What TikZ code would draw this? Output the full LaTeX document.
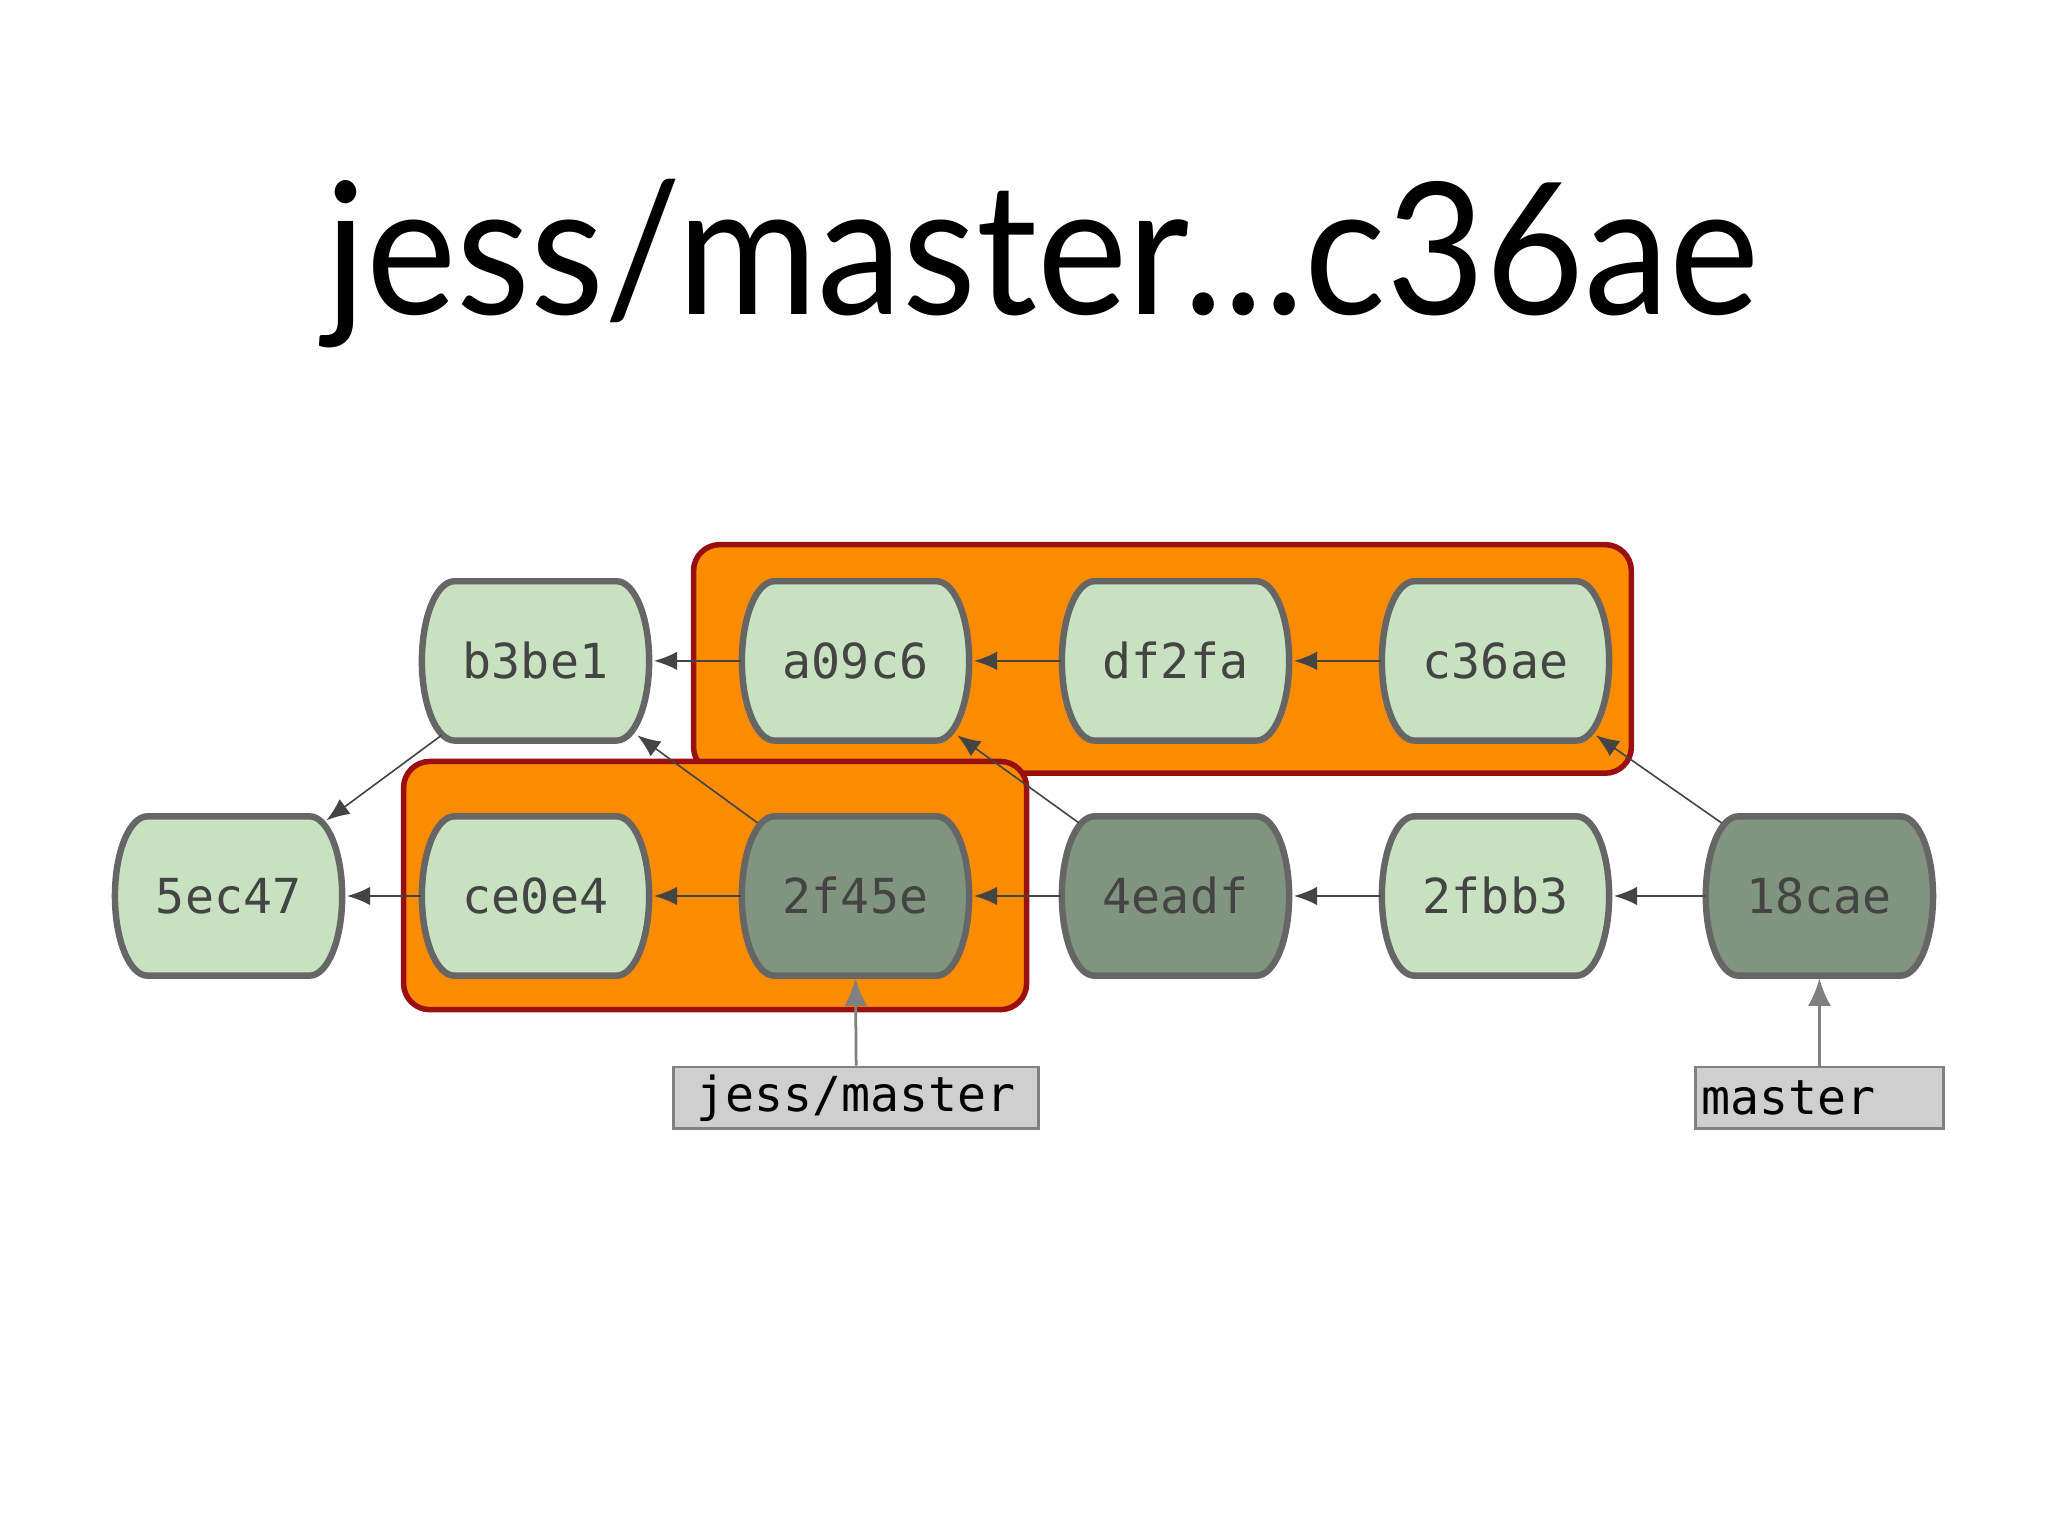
\documentclass[tikz,border=0pt]{standalone}
\usepackage{fontspec}
\setmainfont{Lato}
\newfontfamily\monof{DejaVu Sans Mono}
\usetikzlibrary{calc,arrows.meta}
\definecolor{lg}{HTML}{C8E1C0}
\definecolor{dg}{HTML}{81947F}
\definecolor{bd}{HTML}{666666}
\definecolor{org}{HTML}{FB8C00}
\definecolor{dr}{HTML}{9A1010}
\definecolor{tx}{HTML}{444444}
\newcommand{\cmt}[5]{%
  \fill[#5,draw=bd,line width=1.4pt] (#2-62,#3-61) -- (#2+62,#3-61)
    arc[start angle=-90,end angle=90,x radius=25,y radius=61]
    -- (#2-62,#3+61) arc[start angle=90,end angle=270,x radius=25,y radius=61] -- cycle;
  \node[minimum width=1.74cm,minimum height=1.22cm,inner sep=0pt,text=tx,
    font=\monof\fontsize{10.5}{12}\selectfont] (#1) at (#2,#3) {#4};}
\tikzset{x=0.01cm,y=-0.01cm,
  ed/.style={draw=tx,line width=0.35pt,-{Latex[length=5pt,width=4pt]}},
  box/.style={fill=org,draw=dr,line width=1.2pt,rounded corners=0.2cm},
  lbl/.style={fill=black!19,draw=black!50,line width=0.6pt,inner sep=0pt,
    font=\monof\fontsize{10.5}{12}\selectfont},
  ref/.style={draw=black!50,line width=0.6pt,-{Latex[length=6pt,width=5pt]}}}
\begin{document}
\begin{tikzpicture}
\useasboundingbox[fill=white] (0,0) rectangle (1568,1176);
\node[font=\fontsize{40}{44}\selectfont,xscale=0.93] (title) at (798,202) {jess/master...c36ae};
\draw[box] (531,417) rectangle (1249,592);
\draw[box] (309,583) rectangle (786,773);
\cmt{b3be1}{410}{506}{b3be1}{lg}
\cmt{a09c6}{655}{506}{a09c6}{lg}
\cmt{df2fa}{900}{506}{df2fa}{lg}
\cmt{c36ae}{1145}{506}{c36ae}{lg}
\cmt{5ec47}{175}{686}{5ec47}{lg}
\cmt{ce0e4}{410}{686}{ce0e4}{lg}
\cmt{2f45e}{655}{686}{2f45e}{dg}
\cmt{4eadf}{900}{686}{4eadf}{dg}
\cmt{2fbb3}{1145}{686}{2fbb3}{lg}
\cmt{18cae}{1393}{686}{18cae}{dg}
\draw[ed] (a09c6.west) -- ($(b3be1.east)+(3,0)$);
\draw[ed] (df2fa.west) -- ($(a09c6.east)+(3,0)$);
\draw[ed] (c36ae.west) -- ($(df2fa.east)+(3,0)$);
\draw[ed] (ce0e4.west) -- ($(5ec47.east)+(3,0)$);
\draw[ed] (2f45e.west) -- ($(ce0e4.east)+(3,0)$);
\draw[ed] (4eadf.west) -- ($(2f45e.east)+(3,0)$);
\draw[ed] (2fbb3.west) -- ($(4eadf.east)+(3,0)$);
\draw[ed] (18cae.west) -- ($(2fbb3.east)+(3,0)$);
\draw[ed] ($(b3be1)+(-72,57)$) -- ($(5ec47)+(75,-58)$);
\draw[ed] ($(2f45e)+(-75,-56)$) -- ($(b3be1)+(78,57)$);
\draw[ed] ($(4eadf)+(-74,-56)$) -- ($(a09c6)+(78,57)$);
\draw[ed] ($(18cae)+(-75,-56)$) -- ($(c36ae)+(77,57)$);
\node[lbl,minimum width=2.79cm,minimum height=0.47cm] (jm) at (655.5,840.5) {jess/master};
\node[lbl,minimum width=1.9cm,minimum height=0.47cm,text width=1.8cm,align=left] (ms) at (1393,840.5) {master};
\draw[ref] (jm.north) -- (655,749);
\draw[ref] (ms.north) -- (1393,749);
\end{tikzpicture}
\end{document}
